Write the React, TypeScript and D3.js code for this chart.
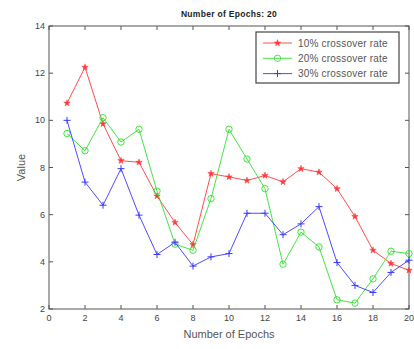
import React, { useRef, useEffect } from 'react';
import * as d3 from 'd3';

const epochs = [1, 2, 3, 4, 5, 6, 7, 8, 9, 10, 11, 12, 13, 14, 15, 16, 17, 18, 19, 20];
const rate10 = [10.73, 12.25, 9.85, 8.29, 8.22, 6.79, 5.67, 4.73, 7.74, 7.6, 7.45, 7.66, 7.39, 7.95, 7.8, 7.1, 5.92, 4.49, 3.93, 3.64];
const rate20 = [9.44, 8.71, 10.11, 9.08, 9.62, 7.0, 4.75, 4.49, 6.68, 9.62, 8.36, 7.1, 3.9, 5.26, 4.63, 2.39, 2.25, 3.28, 4.45, 4.35];
const rate30 = [10.0, 7.38, 6.4, 7.95, 5.98, 4.31, 4.83, 3.82, 4.21, 4.35, 6.06, 6.06, 5.15, 5.61, 6.34, 3.97, 3.0, 2.7, 3.55, 4.07];
const seriesNames = ['10% crossover rate', '20% crossover rate', '30% crossover rate'];
const xTicks = [0, 2, 4, 6, 8, 10, 12, 14, 16, 18, 20];
const yTicks = [2, 4, 6, 8, 10, 12, 14];

const W = 414;
const H = 349;

export default function App() {
  const svgRef = useRef<SVGSVGElement>(null);

  useEffect(() => {
    if (!svgRef.current) return;
    const svg = d3.select(svgRef.current);
    svg.selectAll('*').remove();

    const left = 49, right = 409, top = 26, bottom = 309;
    const x = d3.scaleLinear().domain([0, 20]).range([left, right]);
    const y = d3.scaleLinear().domain([2, 14]).range([bottom, top]);
    const font = 'Arial, "Liberation Sans", sans-serif';
    const axisCol = '#555';

    svg.append('rect').attr('width', W).attr('height', H).attr('fill', '#fff');

    // frame
    svg.append('rect')
      .attr('x', left).attr('y', top)
      .attr('width', right - left).attr('height', bottom - top)
      .attr('fill', 'none').attr('stroke', axisCol).attr('stroke-width', 1);

    // ticks (inside, all four sides)
    const tl = 4;
    xTicks.forEach(t => {
      svg.append('line').attr('x1', x(t)).attr('x2', x(t)).attr('y1', bottom).attr('y2', bottom - tl).attr('stroke', axisCol);
      svg.append('line').attr('x1', x(t)).attr('x2', x(t)).attr('y1', top).attr('y2', top + tl).attr('stroke', axisCol);
      svg.append('text').attr('x', x(t)).attr('y', bottom + 12)
        .attr('text-anchor', 'middle').attr('font-family', font).attr('font-size', 9).attr('fill', '#444').text(t);
    });
    yTicks.forEach(t => {
      svg.append('line').attr('x1', left).attr('x2', left + tl).attr('y1', y(t)).attr('y2', y(t)).attr('stroke', axisCol);
      svg.append('line').attr('x1', right).attr('x2', right - tl).attr('y1', y(t)).attr('y2', y(t)).attr('stroke', axisCol);
      svg.append('text').attr('x', left - 4).attr('y', y(t) + 3)
        .attr('text-anchor', 'end').attr('font-family', font).attr('font-size', 9).attr('fill', '#444').text(t);
    });

    // title and labels
    svg.append('text').attr('x', (left + right) / 2).attr('y', 17)
      .attr('text-anchor', 'middle').attr('font-family', font).attr('font-size', 8.5)
      .attr('font-weight', 'bold').attr('letter-spacing', 0.3).attr('fill', '#222').text('Number of Epochs: 20');
    svg.append('text').attr('x', (left + right) / 2).attr('y', 338)
      .attr('text-anchor', 'middle').attr('font-family', font).attr('font-size', 11)
      .attr('fill', '#555').text('Number of Epochs');
    svg.append('text').attr('transform', `translate(25,${(top + bottom) / 2}) rotate(-90)`)
      .attr('text-anchor', 'middle').attr('font-family', font).attr('font-size', 11)
      .attr('fill', '#555').text('Value');

    const colors = ['#ff3838', '#30e030', '#3838ff'];
    const data = [rate10, rate20, rate30];
    const line = d3.line<number>().x((_, i) => x(epochs[i])).y(d => y(d));

    const drawMarker = (g: any, k: number, cx: number, cy: number) => {
      const c = colors[k];
      if (k === 0) {
        g.append('path').attr('d', d3.symbol().type(d3.symbolStar).size(13)())
          .attr('transform', `translate(${cx},${cy})`).attr('fill', c).attr('stroke', c).attr('stroke-width', 0.5);
      } else if (k === 1) {
        g.append('circle').attr('cx', cx).attr('cy', cy).attr('r', 3.2)
          .attr('fill', 'none').attr('stroke', c).attr('stroke-width', 0.9);
      } else {
        const s = 3.5;
        g.append('path').attr('d', `M${cx - s},${cy}H${cx + s}M${cx},${cy - s}V${cy + s}`)
          .attr('stroke', c).attr('stroke-width', 1);
      }
    };

    data.forEach((vals, k) => {
      const g = svg.append('g');
      g.append('path').datum(vals).attr('d', line).attr('fill', 'none')
        .attr('stroke', colors[k]).attr('stroke-width', 0.9);
      vals.forEach((v, i) => drawMarker(g, k, x(epochs[i]), y(v)));
    });

    // legend
    const lx = 256, ly = 32, lw = 143, lh = 51;
    svg.append('rect').attr('x', lx).attr('y', ly).attr('width', lw).attr('height', lh)
      .attr('fill', '#fff').attr('stroke', '#444').attr('stroke-width', 1.2);
    seriesNames.forEach((name, k) => {
      const ry = ly + 11 + k * 15.3;
      const g = svg.append('g');
      g.append('line').attr('x1', lx + 7).attr('x2', lx + 36).attr('y1', ry).attr('y2', ry)
        .attr('stroke', colors[k]).attr('stroke-width', 0.9);
      drawMarker(g, k, lx + 21.5, ry);
      g.append('text').attr('x', lx + 42).attr('y', ry + 3.5)
        .attr('font-family', font).attr('font-size', 10).attr('letter-spacing', 0.2)
        .attr('fill', '#555').text(name);
    });
  }, []);

  return (
    <svg ref={svgRef} width={W} height={H}
      style={{ position: 'absolute', left: 0, top: 0, display: 'block' }} />
  );
}
